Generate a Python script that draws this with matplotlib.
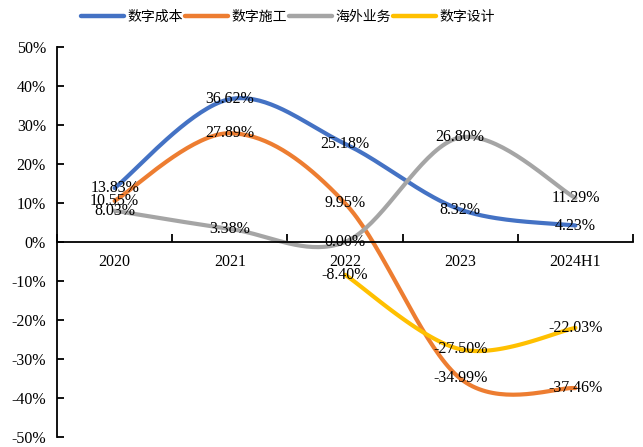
import numpy as np
import matplotlib
matplotlib.use("Agg")
import matplotlib.pyplot as plt
from matplotlib.ticker import FixedLocator, NullFormatter, FixedFormatter

categories = ["2020", "2021", "2022", "2023", "2024H1"]
series_names = ["数字成本", "数字施工", "海外业务", "数字设计"]
cost = [13.83, 36.62, 25.18, 8.32, 4.23]
construction = [10.55, 27.89, 9.95, -34.99, -37.46]
overseas = [8.03, 3.38, 0.00, 26.80, 11.29]
design = [None, None, -8.40, -27.50, -22.03]
y_ticks = [-50, -40, -30, -20, -10, 0, 10, 20, 30, 40, 50]

colors = ["#4472C4", "#ED7D31", "#A5A5A5", "#FFC000"]


def smooth(xs, ys, n=40):
    """Catmull-Rom style Bezier smoothing (like Excel smoothed lines)."""
    xs = np.asarray(xs, float)
    ys = np.asarray(ys, float)
    px = np.concatenate([[xs[0]], xs, [xs[-1]]])
    py = np.concatenate([[ys[0]], ys, [ys[-1]]])
    outx, outy = [], []
    t = np.linspace(0, 1, n)
    for i in range(1, len(px) - 2):
        p0x, p0y = px[i], py[i]
        p3x, p3y = px[i + 1], py[i + 1]
        c1x = p0x + (px[i + 1] - px[i - 1]) / 6
        c1y = p0y + (py[i + 1] - py[i - 1]) / 6
        c2x = p3x - (px[i + 2] - px[i]) / 6
        c2y = p3y - (py[i + 2] - py[i]) / 6
        bx = (1 - t) ** 3 * p0x + 3 * (1 - t) ** 2 * t * c1x + 3 * (1 - t) * t ** 2 * c2x + t ** 3 * p3x
        by = (1 - t) ** 3 * p0y + 3 * (1 - t) ** 2 * t * c1y + 3 * (1 - t) * t ** 2 * c2y + t ** 3 * p3y
        outx.extend(bx)
        outy.extend(by)
    return np.array(outx), np.array(outy)


fig = plt.figure(figsize=(6.43, 4.47), dpi=100)
ax = fig.add_axes([57 / 643, 1 - 437 / 447, 576 / 643, 390 / 447])

serif = "Liberation Serif"
all_series = [cost, construction, overseas, design]
handles = []
for name, vals, col in zip(series_names, all_series, colors):
    idx = [i for i, v in enumerate(vals) if v is not None]
    xs = [i for i in idx]
    ys = [vals[i] for i in idx]
    sx, sy = smooth(xs, ys)
    h, = ax.plot(sx, sy, color=col, lw=3.0, solid_capstyle="round", label=name, zorder=2)
    handles.append(h)
    for x, y in zip(xs, ys):
        ax.text(x, y, f"{y:.2f}%", ha="center", va="center", fontsize=11.5,
                family=serif, color="black", zorder=3)

ax.set_xlim(-0.5, 4.5)
ax.set_ylim(-50, 50)

ax.spines["top"].set_visible(False)
ax.spines["right"].set_visible(False)
ax.spines["bottom"].set_position(("data", 0))
ax.spines["left"].set_linewidth(1.3)
ax.spines["bottom"].set_linewidth(1.3)

ax.yaxis.set_major_locator(FixedLocator(y_ticks))
ax.set_yticklabels([f"{v}%" for v in y_ticks], family=serif, fontsize=11.5)
ax.tick_params(axis="y", direction="in", length=5, width=1.3, pad=8)

ax.xaxis.set_major_locator(FixedLocator([i - 0.5 for i in range(len(categories) + 1)]))
ax.xaxis.set_major_formatter(NullFormatter())
ax.xaxis.set_minor_locator(FixedLocator(list(range(len(categories)))))
ax.xaxis.set_minor_formatter(FixedFormatter(categories))
ax.tick_params(axis="x", which="major", direction="in", length=6, width=1.3)
ax.tick_params(axis="x", which="minor", length=0, pad=9, labelsize=11.5)
for lbl in ax.xaxis.get_minorticklabels():
    lbl.set_family(serif)

leg = fig.legend(handles=handles, loc="center", bbox_to_anchor=(288 / 643, 1 - 17 / 447),
                 ncol=4, frameon=False, prop={"family": "Noto Sans CJK SC", "size": 10},
                 handlelength=3.1, handletextpad=0.25, columnspacing=0.15)
for l in leg.get_lines():
    l.set_linewidth(3.2)

fig.savefig("out.png", dpi=100)
